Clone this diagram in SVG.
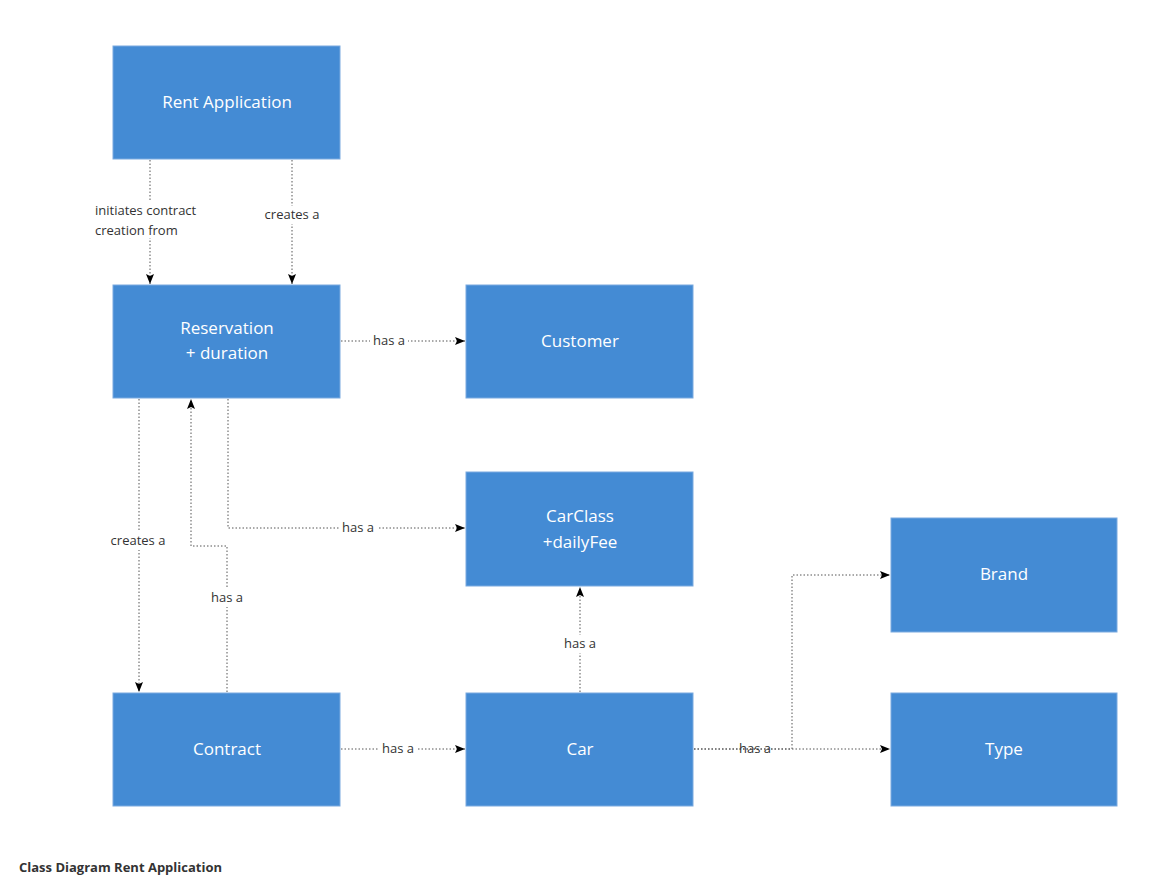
<svg xmlns="http://www.w3.org/2000/svg" width="1156" height="888" viewBox="0 0 1156 888">
<style>
.n{fill:#448bd4;stroke:#7aaae0;stroke-width:1}
.t{font-family:"Open Sans",sans-serif;font-size:17px;fill:#fff;text-anchor:middle}
.c{fill:none;stroke:#555;stroke-width:1;stroke-dasharray:1.5 2}
.l{font-family:"Open Sans",sans-serif;font-size:13px;fill:#333;text-anchor:middle}
.lb{fill:#fff}
</style>
<defs><marker id="a" viewBox="0 0 10 10" refX="10" refY="5" markerWidth="10" markerHeight="10" markerUnits="userSpaceOnUse" orient="auto"><path d="M0,1 L10,5 L0,9 L2,5 Z" fill="#000"/></marker></defs>
<rect width="1156" height="888" fill="#fff"/>
<g id="connectors">
<path class="c" d="M150,160 V284" marker-end="url(#a)"/>
<path class="c" d="M292,160 V284" marker-end="url(#a)"/>
<path class="c" d="M341,341 H465" marker-end="url(#a)"/>
<path class="c" d="M228,399 V528 H465" marker-end="url(#a)"/>
<path class="c" d="M139,399 V692" marker-end="url(#a)"/>
<path class="c" d="M227,692 V546 H191 V399" marker-end="url(#a)"/>
<path class="c" d="M341,749 H465" marker-end="url(#a)"/>
<path class="c" d="M580,692 V587" marker-end="url(#a)"/>
<path class="c" d="M694,749 H890" marker-end="url(#a)"/>
<path class="c" d="M694,749 H792 V575 H890" marker-end="url(#a)"/>
<rect class="lb" x="92" y="200" width="112" height="38"/>
<text class="l" x="95" y="215" text-anchor="start" style="text-anchor:start">initiates contract</text>
<text class="l" x="95" y="235" style="text-anchor:start">creation from</text>
<rect class="lb" x="262" y="206" width="60" height="18"/>
<text class="l" x="292" y="219">creates a</text>
<rect class="lb" x="370" y="332" width="38" height="18"/>
<text class="l" x="389" y="345">has a</text>
<rect class="lb" x="339" y="519" width="38" height="18"/>
<text class="l" x="358" y="532">has a</text>
<rect class="lb" x="107" y="532" width="62" height="18"/>
<text class="l" x="138" y="545">creates a</text>
<rect class="lb" x="207" y="589" width="40" height="18"/>
<text class="l" x="227" y="602">has a</text>
<rect class="lb" x="379" y="740" width="38" height="18"/>
<text class="l" x="398" y="753">has a</text>
<rect class="lb" x="561" y="635" width="38" height="18"/>
<text class="l" x="580" y="648">has a</text>
<text class="l" x="755" y="753">has a</text>
</g>
<g id="rent"><rect class="n" x="113" y="46" width="227" height="113"/><text class="t" x="227" y="108">Rent Application</text></g>
<g id="reservation"><rect class="n" x="113" y="285" width="227" height="113"/><text class="t" x="227" y="334">Reservation</text><text class="t" x="227" y="359">+ duration</text></g>
<g id="customer"><rect class="n" x="466" y="285" width="227" height="113"/><text class="t" x="580" y="347">Customer</text></g>
<g id="carclass"><rect class="n" x="466" y="472" width="227" height="114"/><text class="t" x="580" y="522">CarClass</text><text class="t" x="580" y="548">+dailyFee</text></g>
<g id="brand"><rect class="n" x="891" y="518" width="226" height="114"/><text class="t" x="1004" y="580">Brand</text></g>
<g id="contract"><rect class="n" x="113" y="693" width="227" height="113"/><text class="t" x="227" y="755">Contract</text></g>
<g id="car"><rect class="n" x="466" y="693" width="227" height="113"/><text class="t" x="580" y="755">Car</text></g>
<g id="type"><rect class="n" x="891" y="693" width="226" height="113"/><text class="t" x="1004" y="755">Type</text></g>
<text x="19" y="872" font-family="'Open Sans',sans-serif" font-size="13" font-weight="bold" fill="#333">Class Diagram Rent Application</text>
</svg>
